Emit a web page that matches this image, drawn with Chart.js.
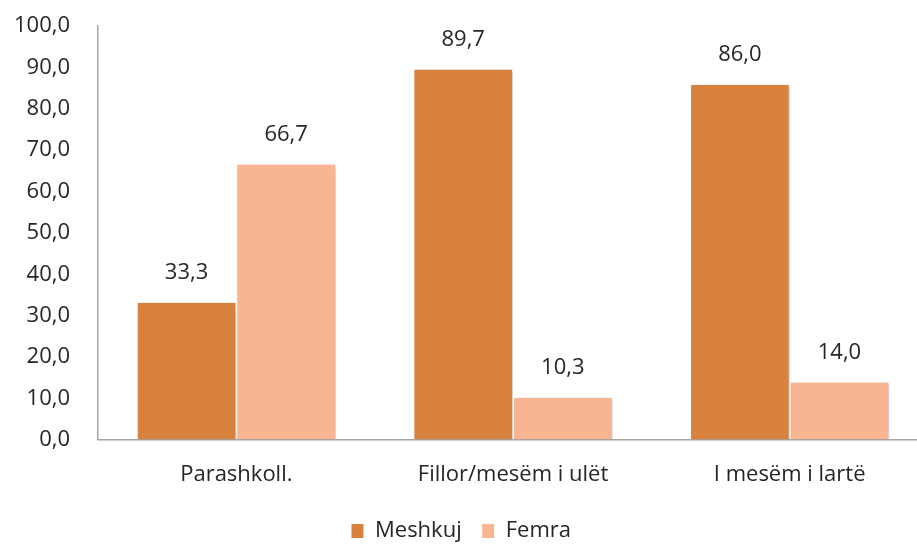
<!DOCTYPE html>
<html>
<head>
<meta charset="utf-8">
<script src="https://cdn.jsdelivr.net/npm/chart.js@4"></script>
<style>
  html, body { margin: 0; padding: 0; background: #fff; overflow: hidden; }
  #wrap { width: 940px; height: 559px; margin: -7px 0 0 -10px; }
</style>
</head>
<body>
<div id="wrap"><canvas id="eduChart"></canvas></div>
<script>
const categories = ['Parashkoll.', 'Fillor/mesëm i ulët', 'I mesëm i lartë'];
const meshkuj = [33.3, 89.7, 86.0];
const femra = [66.7, 10.3, 14.0];
const yTicks = { min: 0, max: 100, step: 10 };

const FONT = "'Open Sans', sans-serif";
const SIZE = 22;
const fmt = v => v.toFixed(1).replace('.', ',');

// soft shadow behind the bars, like the office chart
const barShadow = {
    id: 'barShadow',
    beforeDatasetDraw(chart) {
        const c = chart.ctx;
        c.save();
        c.shadowColor = 'rgba(0,0,0,0.22)';
        c.shadowBlur = 4;
        c.shadowOffsetX = 2;
        c.shadowOffsetY = 1;
    },
    afterDatasetDraw(chart) {
        chart.ctx.restore();
    }
};

// value labels above each bar
const valueLabels = {
    id: 'valueLabels',
    afterDatasetsDraw(chart) {
        const c = chart.ctx;
        c.save();
        c.font = SIZE + 'px ' + FONT;
        c.fillStyle = '#262626';
        c.textAlign = 'center';
        c.textBaseline = 'middle';
        chart.data.datasets.forEach((ds, i) => {
            chart.getDatasetMeta(i).data.forEach((bar, j) => {
                c.fillText(fmt(ds.data[j]), bar.x, bar.y - 29);
            });
        });
        c.restore();
    }
};

const ctx = document.getElementById('eduChart').getContext('2d');
new Chart(ctx, {
    type: 'bar',
    data: {
        labels: categories,
        datasets: [{
            label: 'Meshkuj',
            data: meshkuj,
            backgroundColor: '#D9823E',
            borderColor: '#ffffff',
            borderWidth: 1
        }, {
            label: 'Femra',
            data: femra,
            backgroundColor: '#F9B491',
            borderColor: '#ffffff',
            borderWidth: 1
        }]
    },
    options: {
        responsive: true,
        maintainAspectRatio: false,
        animation: false,
        datasets: {
            bar: { categoryPercentage: 0.72, barPercentage: 1 }
        },
        layout: {
            padding: { top: 4, right: 2, left: 4, bottom: 0 }
        },
        scales: {
            x: {
                grid: { display: false },
                border: { display: true, color: '#A6A6A6', width: 1.5 },
                ticks: {
                    color: '#262626',
                    padding: 14,
                    font: { family: FONT, size: SIZE }
                },
                afterFit: function(scale) {
                    scale.height -= 2;
                }
            },
            y: {
                min: yTicks.min,
                max: yTicks.max,
                grid: { display: false },
                border: { display: true, color: '#A6A6A6', width: 1.5 },
                ticks: {
                    stepSize: yTicks.step,
                    color: '#262626',
                    padding: 20,
                    font: { family: FONT, size: SIZE },
                    callback: function(value) {
                        return fmt(value);
                    }
                }
            }
        },
        plugins: {
            legend: {
                position: 'bottom',
                labels: {
                    color: '#262626',
                    boxWidth: 13,
                    boxHeight: 15,
                    padding: 20,
                    font: { family: FONT, size: SIZE }
                }
            },
            tooltip: { enabled: false }
        }
    },
    plugins: [barShadow, valueLabels]
});
</script>
</body>
</html>
